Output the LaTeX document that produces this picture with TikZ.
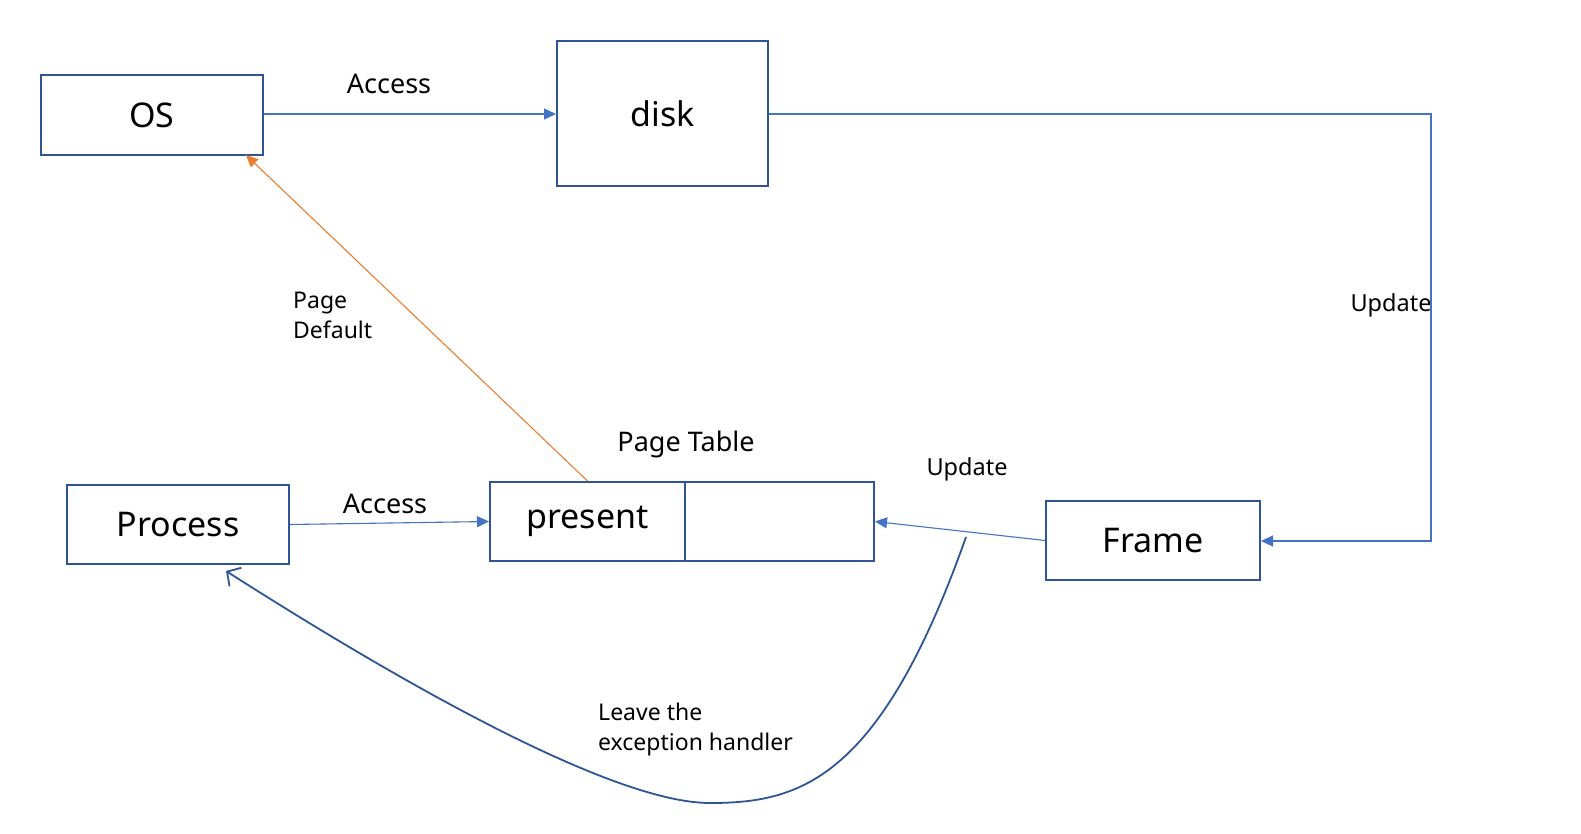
\documentclass[tikz,border=0pt]{standalone}
\usepackage{fontspec}
\setmainfont{Noto Sans}
\usetikzlibrary{arrows.meta}
\definecolor{boxblue}{HTML}{2F5597}
\definecolor{lineblue}{HTML}{4472C4}
\definecolor{orangeline}{HTML}{ED7D31}
\begin{document}
\begin{tikzpicture}[x=1pt,y=-1pt,
  box/.style={draw=boxblue,line width=2pt,inner sep=0pt,font=\fontsize{34}{40}\selectfont},
  lbl/.style={inner sep=0pt,font=\fontsize{23.5}{30}\selectfont},
  biglbl/.style={inner sep=0pt,font=\fontsize{27}{32}\selectfont},
  conn/.style={draw=lineblue,line width=1.1pt,-{Triangle[length=12pt,width=11pt]}},
  pf/.style={draw=orangeline,line width=1.1pt,-{Triangle[length=12pt,width=11pt]}},
  ret/.style={draw=boxblue,line width=1.8pt,-{Straight Barb[length=10pt,width=22pt,line width=1.8pt]}}]
\useasboundingbox (0,0) rectangle (1581,834);
\fill[white] (0,0) rectangle (1581,834);
% boxes
\node[box,minimum width=222pt,minimum height=80pt] (OS) at (152,115) {OS};
\node[box,minimum width=211pt,minimum height=145pt] (disk) at (662.5,113.5) {disk};
\node[box,minimum width=222pt,minimum height=79pt] (Process) at (178,524.5) {Process};
\node[box,minimum width=195pt,minimum height=79pt] (present) at (587.5,521.5) {present};
\node[box,minimum width=189pt,minimum height=79pt] (cell) at (779.5,521.5) {};
\node[box,minimum width=214pt,minimum height=79pt] (Frame) at (1153,540.5) {Frame};
% labels
\node[biglbl] (accTop) at (389,84) {Access};
\node[biglbl] (accBot) at (385,504) {Access};
\node[biglbl] (ptab) at (686,444) {Page Table};
\node[lbl] (upd1) at (967,469) {Update};
\node[lbl] (upd2) at (1391,305) {Update};
\node[lbl,align=left,anchor=north west,font=\fontsize{23}{30}\selectfont] (pd) at (293,292) {Page\\Default};
\node[lbl,align=left,anchor=north west,font=\fontsize{23}{30}\selectfont] (leave) at (598,703) {Leave the\\exception handler};
% connectors
\coordinate (corner1) at (1431,114);
\coordinate (corner2) at (1431,541);
\coordinate (osin) at (246,155);
\coordinate (cstart) at (966,537);
\coordinate (cbot) at (710,803);
\coordinate (pin) at (226,571);
\draw[conn] (OS.east |- 0,114) -- (disk.west |- 0,114);
\draw[conn] (disk.east |- corner1) -- (corner1) -- (corner2) -- (Frame.east |- corner2);
\draw[conn] (Process.east) -- (present.west);
\draw[conn] (Frame.west) -- (cell.east);
\draw[pf] (present.north) -- (osin);
\draw[ret] (cstart) .. controls (880,780) and (800,803) .. (cbot) .. controls (600,803) and (350,650) .. (pin);
\end{tikzpicture}
\end{document}
